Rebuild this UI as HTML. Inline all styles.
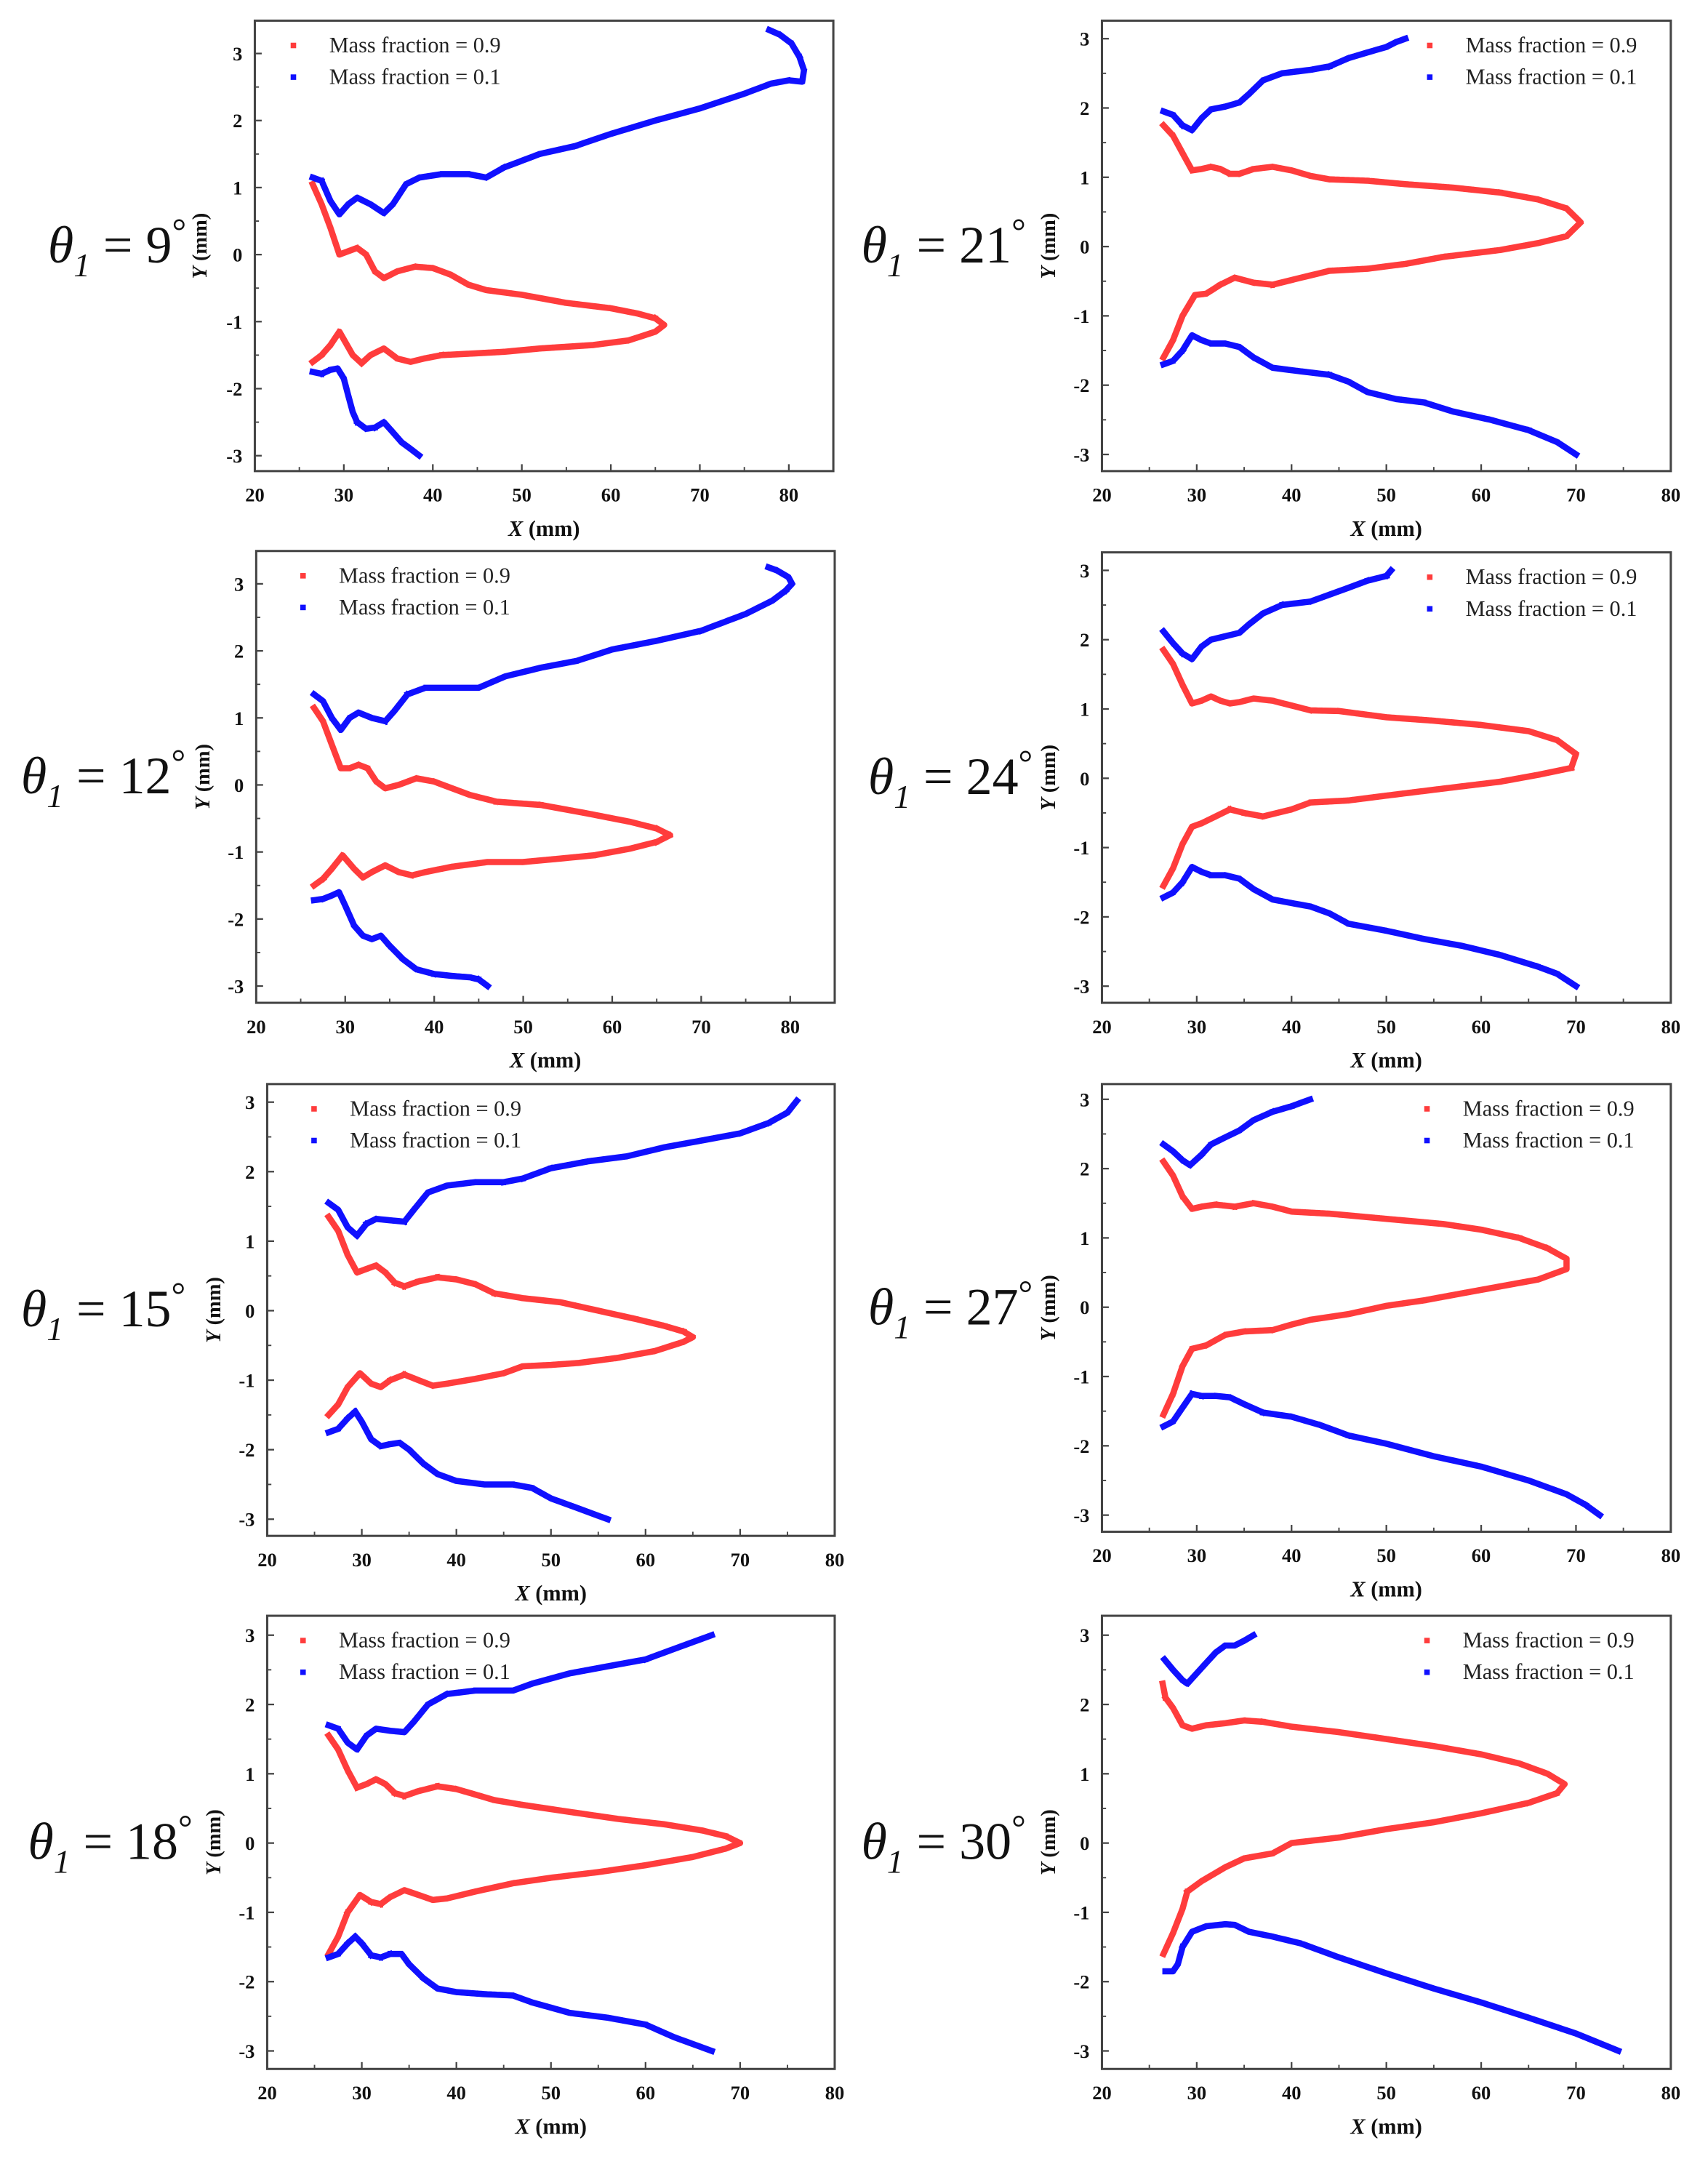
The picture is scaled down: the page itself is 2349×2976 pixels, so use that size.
<!DOCTYPE html>
<html><head><meta charset="utf-8">
<style>
html,body{margin:0;padding:0;background:#fff;}
svg{display:block;}
text{font-family:"Liberation Serif",serif;}
</style></head>
<body>
<svg id="fig" width="2349" height="2976" viewBox="0 0 1240 1571" font-family="Liberation Serif, serif" xmlns="http://www.w3.org/2000/svg"></svg>
<script>
// ---- Data (X mm, Y mm) ----
const angles = [9, 12, 15, 18, 21, 24, 27, 30];
const xTicks = [20, 30, 40, 50, 60, 70, 80];
const yTicks = [-3, -2, -1, 0, 1, 2, 3];

const blueUp9 = [[26.5,1.15],[27.5,1.1],[28.5,0.8],[29.5,0.6],[30.5,0.75],[31.5,0.85],[33,0.75],[34.5,0.62],[35.5,0.75],[37,1.05],[38.5,1.15],[41,1.2],[44,1.2],[46,1.15],[48,1.3],[52,1.5],[56,1.62],[60,1.8],[65,2.0],[70,2.18],[75,2.4],[78,2.55],[80,2.6],[81.5,2.58],[81.7,2.75],[81.2,2.95],[80.3,3.15],[79,3.28],[77.8,3.35]];
const red9 = [[26.5,1.05],[27.5,0.75],[28.5,0.4],[29.5,0.0],[30.5,0.05],[31.5,0.1],[32.5,0.0],[33.5,-0.25],[34.5,-0.35],[36,-0.25],[38,-0.18],[40,-0.2],[42,-0.3],[44,-0.45],[46,-0.53],[50,-0.6],[55,-0.72],[60,-0.8],[63,-0.88],[65,-0.95],[66,-1.05],[65,-1.15],[62,-1.28],[58,-1.35],[52,-1.4],[48,-1.45],[44,-1.48],[41,-1.5],[39,-1.55],[37.5,-1.6],[36,-1.55],[34.5,-1.4],[33,-1.5],[32,-1.62],[31,-1.5],[29.5,-1.15],[28.5,-1.35],[27.5,-1.5],[26.5,-1.6]];
const blueLo9 = [[26.5,-1.75],[27.5,-1.78],[28.5,-1.72],[29.3,-1.7],[30,-1.85],[30.5,-2.1],[31,-2.35],[31.5,-2.5],[32.5,-2.6],[33.5,-2.58],[34.5,-2.5],[35.5,-2.65],[36.5,-2.8],[37.5,-2.9],[38.5,-3.0]];

const blueUp12 = [[26.5,1.35],[27.5,1.25],[28.5,1.0],[29.5,0.82],[30.5,1.0],[31.5,1.08],[33,1.0],[34.5,0.95],[35.5,1.1],[37,1.35],[39,1.45],[42,1.45],[45,1.45],[48,1.62],[52,1.75],[56,1.85],[60,2.02],[65,2.15],[70,2.3],[75,2.55],[78,2.75],[79.5,2.9],[80.2,3.0],[79.8,3.1],[78.5,3.2],[77.5,3.25]];
const red12 = [[26.5,1.15],[27.5,0.95],[28.5,0.6],[29.5,0.25],[30.5,0.25],[31.5,0.3],[32.5,0.25],[33.5,0.05],[34.5,-0.05],[36,0.0],[38,0.1],[40,0.05],[42,-0.05],[44,-0.15],[47,-0.25],[52,-0.3],[57,-0.42],[62,-0.55],[65,-0.65],[66.5,-0.75],[65,-0.85],[62,-0.95],[58,-1.05],[54,-1.1],[50,-1.15],[46,-1.15],[42,-1.22],[39,-1.3],[37.5,-1.35],[36,-1.3],[34.5,-1.2],[33,-1.3],[32,-1.38],[31,-1.25],[29.7,-1.05],[28.5,-1.25],[27.5,-1.4],[26.5,-1.5]];
const blueLo12 = [[26.5,-1.72],[27.5,-1.7],[28.5,-1.65],[29.3,-1.6],[30,-1.8],[31,-2.1],[32,-2.25],[33,-2.3],[34,-2.25],[35,-2.4],[36.5,-2.6],[38,-2.75],[40,-2.82],[42,-2.85],[44,-2.87],[45,-2.9],[46,-3.0]];

const blueUp15 = [[26.5,1.55],[27.5,1.45],[28.5,1.2],[29.5,1.08],[30.5,1.25],[31.5,1.32],[33,1.3],[34.5,1.28],[35.5,1.45],[37,1.7],[39,1.8],[42,1.85],[45,1.85],[47,1.9],[50,2.05],[54,2.15],[58,2.22],[62,2.35],[66,2.45],[70,2.55],[73,2.7],[75,2.85],[76,3.02]];
const red15 = [[26.5,1.35],[27.5,1.15],[28.5,0.8],[29.5,0.55],[30.5,0.6],[31.5,0.65],[32.5,0.55],[33.5,0.4],[34.5,0.35],[36,0.42],[38,0.48],[40,0.45],[42,0.38],[44,0.25],[47,0.18],[51,0.12],[55,0.0],[59,-0.12],[62,-0.22],[64,-0.3],[65,-0.38],[64,-0.45],[61,-0.58],[57,-0.68],[53,-0.75],[50,-0.78],[47,-0.8],[45,-0.9],[42,-0.98],[39,-1.05],[37.5,-1.08],[36,-1.0],[34.5,-0.92],[33,-1.0],[32,-1.1],[31,-1.05],[29.8,-0.9],[28.5,-1.1],[27.5,-1.35],[26.5,-1.5]];
const blueLo15 = [[26.5,-1.75],[27.5,-1.7],[28.5,-1.55],[29.3,-1.45],[30,-1.6],[31,-1.85],[32,-1.95],[33,-1.92],[34,-1.9],[35,-2.0],[36.5,-2.2],[38,-2.35],[40,-2.45],[43,-2.5],[46,-2.5],[48,-2.55],[50,-2.7],[53,-2.85],[55,-2.95],[56,-3.0]];

const blueUp18 = [[26.5,1.7],[27.5,1.65],[28.5,1.45],[29.5,1.35],[30.5,1.55],[31.5,1.65],[33,1.62],[34.5,1.6],[35.5,1.75],[37,2.0],[39,2.15],[42,2.2],[46,2.2],[48,2.3],[52,2.45],[56,2.55],[60,2.65],[63,2.8],[65,2.9],[67,3.0]];
const red18 = [[26.5,1.55],[27.5,1.35],[28.5,1.05],[29.5,0.8],[30.5,0.85],[31.5,0.92],[32.5,0.85],[33.5,0.72],[34.5,0.68],[36,0.75],[38,0.82],[40,0.78],[42,0.7],[44,0.62],[47,0.55],[52,0.45],[57,0.35],[62,0.27],[66,0.18],[68.5,0.1],[70,0.0],[68.5,-0.08],[65,-0.2],[60,-0.32],[55,-0.42],[50,-0.5],[46,-0.58],[42,-0.7],[39,-0.8],[37.5,-0.82],[36,-0.75],[34.5,-0.68],[33,-0.78],[32,-0.88],[31,-0.85],[29.8,-0.75],[28.5,-1.0],[27.5,-1.35],[26.5,-1.6]];
const blueLo18 = [[26.5,-1.65],[27.5,-1.6],[28.5,-1.45],[29.3,-1.35],[30,-1.45],[31,-1.62],[32,-1.65],[33,-1.6],[34.2,-1.6],[35,-1.75],[36.5,-1.95],[38,-2.1],[40,-2.15],[43,-2.18],[46,-2.2],[48,-2.3],[52,-2.45],[56,-2.52],[60,-2.62],[63,-2.8],[65,-2.9],[67,-3.0]];

const blueUp21 = [[26.5,1.95],[27.5,1.9],[28.5,1.75],[29.5,1.68],[30.5,1.85],[31.5,1.98],[33,2.02],[34.5,2.08],[35.5,2.2],[37,2.4],[39,2.5],[42,2.55],[44,2.6],[46,2.72],[48,2.8],[50,2.88],[51,2.95],[52,3.0]];
const red21 = [[26.5,1.75],[27.5,1.6],[28.5,1.35],[29.5,1.1],[30.5,1.12],[31.5,1.15],[32.5,1.12],[33.5,1.05],[34.5,1.05],[36,1.12],[38,1.15],[40,1.1],[42,1.02],[44,0.97],[48,0.95],[52,0.9],[57,0.85],[62,0.78],[66,0.68],[69,0.55],[70.5,0.35],[69,0.15],[66,0.05],[62,-0.05],[56,-0.15],[52,-0.25],[48,-0.32],[44,-0.35],[41,-0.45],[38,-0.55],[36,-0.52],[34,-0.45],[32.5,-0.55],[31,-0.68],[29.8,-0.7],[28.5,-1.0],[27.5,-1.35],[26.5,-1.6]];
const blueLo21 = [[26.5,-1.7],[27.5,-1.65],[28.5,-1.5],[29.5,-1.28],[30.5,-1.35],[31.5,-1.4],[33,-1.4],[34.5,-1.45],[36,-1.6],[38,-1.75],[41,-1.8],[44,-1.85],[46,-1.95],[48,-2.1],[51,-2.2],[54,-2.25],[57,-2.38],[61,-2.5],[65,-2.65],[68,-2.82],[70,-3.0]];

const blueUp24 = [[26.5,2.12],[27.5,1.95],[28.5,1.8],[29.5,1.72],[30.5,1.9],[31.5,2.0],[33,2.05],[34.5,2.1],[35.5,2.22],[37,2.38],[39,2.5],[42,2.55],[44,2.65],[46,2.75],[48,2.85],[50,2.92],[50.5,3.0]];
const red24 = [[26.5,1.85],[27.5,1.65],[28.5,1.35],[29.5,1.08],[30.5,1.12],[31.5,1.18],[32.5,1.12],[33.5,1.08],[34.5,1.1],[36,1.15],[38,1.12],[40,1.05],[42,0.98],[45,0.97],[50,0.88],[55,0.83],[60,0.77],[65,0.68],[68,0.55],[70,0.35],[69.5,0.15],[66,0.05],[62,-0.05],[56,-0.15],[50,-0.25],[46,-0.32],[42,-0.35],[40,-0.45],[37,-0.55],[35,-0.5],[33.5,-0.45],[32,-0.55],[30.5,-0.65],[29.5,-0.7],[28.5,-0.95],[27.5,-1.3],[26.5,-1.55]];
const blueLo24 = [[26.5,-1.72],[27.5,-1.65],[28.5,-1.5],[29.5,-1.28],[30.5,-1.35],[31.5,-1.4],[33,-1.4],[34.5,-1.45],[36,-1.6],[38,-1.75],[40,-1.8],[42,-1.85],[44,-1.95],[46,-2.1],[50,-2.2],[54,-2.32],[58,-2.42],[62,-2.55],[66,-2.72],[68,-2.82],[70,-3.0]];

const blueUp27 = [[26.5,2.35],[27.5,2.25],[28.5,2.12],[29.3,2.05],[30.5,2.2],[31.5,2.35],[33,2.45],[34.5,2.55],[36,2.7],[38,2.82],[40,2.9],[41,2.95],[42,3.0]];
const red27 = [[26.5,2.1],[27.5,1.9],[28.5,1.6],[29.5,1.42],[30.5,1.45],[32,1.48],[34,1.45],[36,1.5],[38,1.45],[40,1.38],[44,1.35],[48,1.3],[52,1.25],[56,1.2],[60,1.12],[64,1.0],[67,0.85],[69,0.7],[69,0.55],[66,0.4],[62,0.3],[58,0.2],[54,0.1],[50,0.02],[46,-0.1],[42,-0.18],[40,-0.25],[38,-0.33],[35,-0.35],[33,-0.4],[31,-0.55],[29.5,-0.6],[28.5,-0.85],[27.5,-1.25],[26.5,-1.55]];
const blueLo27 = [[26.5,-1.72],[27.5,-1.65],[28.5,-1.45],[29.5,-1.25],[30.5,-1.28],[32,-1.28],[33.5,-1.3],[35,-1.4],[37,-1.52],[40,-1.58],[43,-1.7],[46,-1.85],[50,-1.97],[55,-2.15],[60,-2.3],[65,-2.5],[69,-2.7],[71,-2.85],[72.5,-3.0]];

const blueUp30 = [[26.6,2.65],[27.5,2.5],[28.5,2.35],[29,2.3],[30,2.45],[31,2.6],[32,2.75],[33,2.85],[34,2.85],[35,2.92],[36,3.0]];
const red30 = [[26.4,2.3],[26.7,2.1],[27.5,1.95],[28.5,1.7],[29.5,1.65],[31,1.7],[33,1.73],[35,1.77],[37,1.75],[40,1.68],[45,1.6],[50,1.5],[55,1.4],[60,1.28],[64,1.15],[67,1.0],[68.8,0.85],[68,0.72],[65,0.58],[60,0.43],[55,0.3],[50,0.2],[45,0.08],[40,0.0],[38,-0.15],[35,-0.22],[33,-0.35],[30.5,-0.55],[29,-0.7],[28.5,-0.95],[27.5,-1.3],[26.5,-1.6]];
const blueLo30 = [[26.7,-1.85],[27.5,-1.85],[28,-1.75],[28.5,-1.5],[29.5,-1.28],[31,-1.2],[33,-1.17],[34,-1.18],[35.5,-1.28],[38,-1.35],[41,-1.45],[45,-1.65],[50,-1.88],[55,-2.1],[60,-2.3],[65,-2.52],[70,-2.75],[74.5,-3.0]];

const redSeries = [red9, red12, red15, red18, red21, red24, red27, red30];
const blueUpSeries = [blueUp9, blueUp12, blueUp15, blueUp18, blueUp21, blueUp24, blueUp27, blueUp30];
const blueLoSeries = [blueLo9, blueLo12, blueLo15, blueLo18, blueLo21, blueLo24, blueLo27, blueLo30];

// ---- Layout (view units) ----
const layout = [
 {l:185,t:15,r:605,b:342,xmax:85,ymax:3.49,ymin:-3.23,lgx:213,ytx:150,thx:85},
 {l:186,t:400,r:606,b:728,xmax:85,ymax:3.49,ymin:-3.25,lgx:220,ytx:152,thx:75},
 {l:194,t:787,r:606,b:1115,xmax:80,ymax:3.26,ymin:-3.24,lgx:228,ytx:160,thx:75},
 {l:194,t:1173,r:606,b:1502,xmax:80,ymax:3.28,ymin:-3.26,lgx:220,ytx:160,thx:80},
 {l:800,t:15,r:1213,b:342,xmax:80,ymax:3.26,ymin:-3.24,lgx:1038,ytx:766,thx:685},
 {l:800,t:401,r:1213,b:728,xmax:80,ymax:3.26,ymin:-3.24,lgx:1038,ytx:766,thx:690},
 {l:800,t:787,r:1213,b:1112,xmax:80,ymax:3.22,ymin:-3.24,lgx:1036,ytx:766,thx:690},
 {l:800,t:1173,r:1213,b:1502,xmax:80,ymax:3.28,ymin:-3.26,lgx:1036,ytx:766,thx:685}
];
const NS = "http://www.w3.org/2000/svg";
const svg = document.getElementById('fig');
function mk(tag, attrs, parent){
  const e = document.createElementNS(NS, tag);
  for (const k in attrs) e.setAttribute(k, attrs[k]);
  (parent||svg).appendChild(e);
  return e;
}
const RED = "#ff3c3c", BLUE = "#1010ff";

angles.forEach((ang, i) => {
  const L = layout[i];
  const xmin = 20;
  const sx = v => L.l + (v - xmin) / (L.xmax - xmin) * (L.r - L.l);
  const sy = v => L.t + (L.ymax - v) / (L.ymax - L.ymin) * (L.b - L.t);
  const g = mk('g', {});
  
  

  const frame = mk('rect', {x:L.l, y:L.t, width:L.r-L.l, height:L.b-L.t, fill:'none', stroke:'#444', 'stroke-width':1.6}, g);
  
  

  xTicks.forEach(v => {
    if (v > L.xmax) return;
    const x = sx(v);
    mk('line', {x1:x, y1:L.b, x2:x, y2:L.b-5, stroke:'#444', 'stroke-width':1.2}, g);
    if (v + 5 < L.xmax) mk('line', {x1:sx(v+5), y1:L.b, x2:sx(v+5), y2:L.b-3, stroke:'#444', 'stroke-width':1}, g);
    const t = mk('text', {x:x, y:L.b+22, 'font-size':14, 'font-weight':'bold', 'text-anchor':'middle', fill:'#111'}, g);
    t.textContent = v;
    
    
  });
  yTicks.forEach(v => {
    const y = sy(v);
    mk('line', {x1:L.l, y1:y, x2:L.l+5, y2:y, stroke:'#444', 'stroke-width':1.2}, g);
    if (v + 0.5 < L.ymax) mk('line', {x1:L.l, y1:sy(v+0.5), x2:L.l+3, y2:sy(v+0.5), stroke:'#444', 'stroke-width':1}, g);
    const t = mk('text', {x:L.l-9, y:y+5, 'font-size':14, 'font-weight':'bold', 'text-anchor':'end', fill:'#111'}, g);
    t.textContent = v;
    
    
  });

  const xt = mk('text', {x:(L.l+L.r)/2, y:L.b+47, 'font-size':16, 'font-weight':'bold', 'text-anchor':'middle', fill:'#111'}, g);
  xt.innerHTML = '<tspan font-style="italic">X</tspan> (mm)';
  
  
  const cy = (L.t+L.b)/2;
  const yt = mk('text', {x:L.ytx, y:cy, 'font-size':15, 'font-weight':'bold', 'text-anchor':'middle', fill:'#111', transform:`rotate(-90 ${L.ytx} ${cy})`}, g);
  yt.innerHTML = '<tspan font-style="italic">Y</tspan> (mm)';
  
  

  const th = mk('text', {x:L.thx, y:cy+12, 'font-size':38, 'text-anchor':'middle', fill:'#111'}, g);
  th.innerHTML = '<tspan font-style="italic">θ</tspan><tspan font-style="italic" font-size="24" dy="10">1</tspan><tspan dy="-10"> = ' + ang + '</tspan><tspan font-size="26" dy="-14">°</tspan>';
  
  

  const draw = (pts, color, name) => {
    const p = mk('polyline', {points: pts.map(q => sx(q[0]).toFixed(1)+','+sy(q[1]).toFixed(1)).join(' '), fill:'none', stroke:color, 'stroke-width':4.5, 'stroke-linejoin':'round', 'stroke-linecap':'square', 'stroke-dasharray':'3 0.6'}, g);
    
    
  };
  draw(redSeries[i], RED, 'mass-fraction-0.9-curve');
  draw(blueUpSeries[i], BLUE, 'mass-fraction-0.1-upper-curve');
  draw(blueLoSeries[i], BLUE, 'mass-fraction-0.1-lower-curve');

  const lg = mk('g', {}, g);
  
  
  [['Mass fraction = 0.9', RED], ['Mass fraction = 0.1', BLUE]].forEach((e, k) => {
    const y = L.t + 18 + k*23;
    const m = mk('rect', {x:L.lgx-2, y:y-2, width:4, height:4, fill:e[1]}, lg);
    
    
    const t = mk('text', {x:L.lgx+26, y:y+5, 'font-size':16, fill:'#222'}, lg);
    t.textContent = e[0];
    
    
  });
});
</script>
</body></html>
